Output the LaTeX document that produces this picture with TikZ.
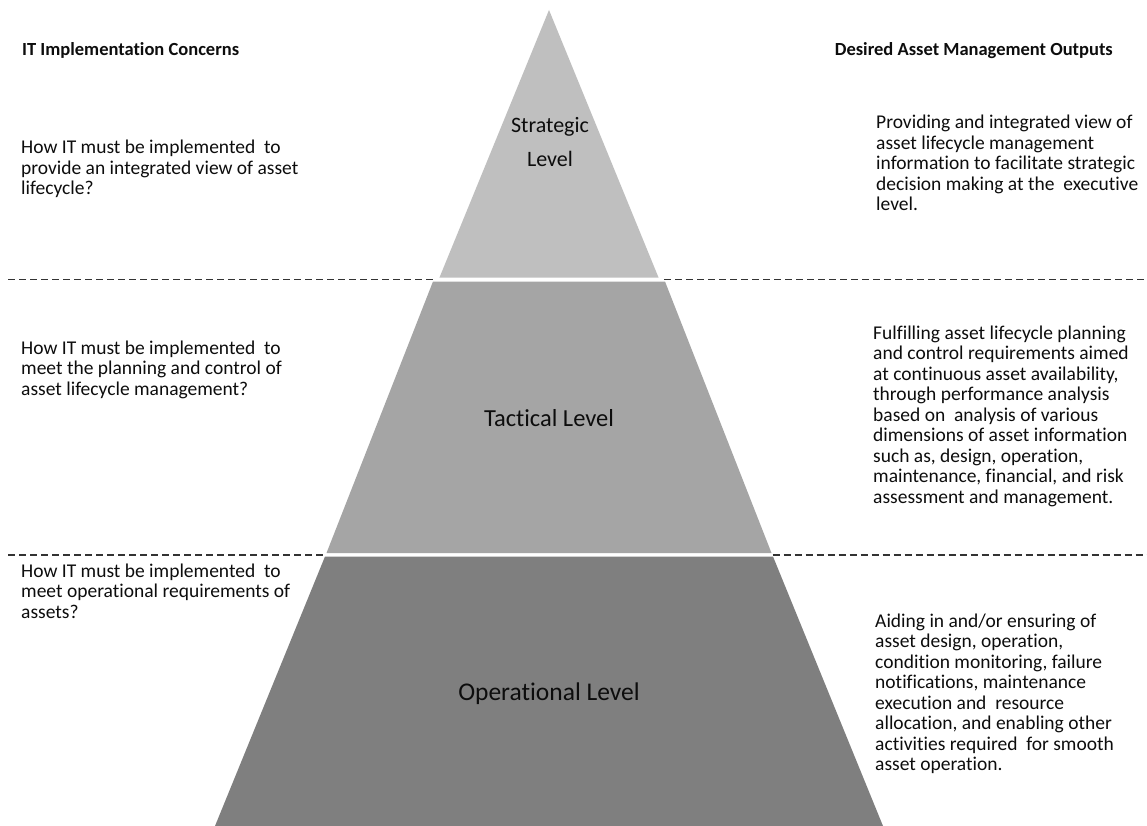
\documentclass[tikz,border=0pt]{standalone}
\usepackage{fontspec}
\setmainfont{Carlito}[Ligatures={NoCommon,NoContextual}]
\definecolor{stratgray}{HTML}{BFBFBF}
\definecolor{tactgray}{HTML}{A5A5A5}
\definecolor{opgray}{HTML}{7F7F7F}
\definecolor{inkgray}{HTML}{0D0D0D}
\begin{document}
\begin{tikzpicture}[x=1pt,y=-1pt,
  % multi-line nodes are placed by the baseline of their last line
  body/.style={anchor=base west, inner sep=0pt, align=left, text=inkgray,
    font=\fontsize{19.5}{20.5}\selectfont},
  head/.style={inner sep=0pt, text=inkgray, font=\fontsize{18.5}{20}\bfseries\selectfont},
  lvl/.style={inner sep=0pt, align=center, text=inkgray},
  levelsep/.style={draw=black!80, line width=1.3pt, dash pattern=on 7pt off 4pt},
]
\useasboundingbox (0,0) rectangle (1147,826);
\fill[white] (0,0) rectangle (1147,826);

% pyramid corners
\coordinate (apex) at (549,10);
\coordinate (sBL) at (439.4,277.7);
\coordinate (sBR) at (658.6,277.7);
\coordinate (tTL) at (433,281.5);
\coordinate (tTR) at (665,281.5);
\coordinate (tBL) at (326.5,553);
\coordinate (tBR) at (771.5,553);
\coordinate (oTL) at (325,556.5);
\coordinate (oTR) at (773,556.5);
\coordinate (oBL) at (215,826);
\coordinate (oBR) at (883,826);

% pyramid levels
\fill[stratgray] (apex) -- (sBL) -- (sBR) -- cycle;
\fill[tactgray] (tTL) -- (tTR) -- (tBR) -- (tBL) -- cycle;
\fill[opgray] (oTL) -- (oTR) -- (oBR) -- (oBL) -- cycle;

% dashed separators between levels
\coordinate (d1a) at (8,279.5);
\coordinate (d1b) at (434,279.5);
\coordinate (d1c) at (664,279.5);
\coordinate (d1d) at (1147,279.5);
\coordinate (d2a) at (8,555);
\coordinate (d2b) at (325.5,555);
\coordinate (d2c) at (772.5,555);
\coordinate (d2d) at (1147,555);
\draw[levelsep] (d1a) -- (d1b);
\draw[levelsep] (d1c) -- (d1d);
\draw[levelsep] (d2a) -- (d2b);
\draw[levelsep] (d2c) -- (d2d);

% level labels
\node[lvl, anchor=base, font=\fontsize{22}{34}\selectfont] (strat) at (550,166.7) {Strategic\\Level};
\node[lvl, anchor=base, font=\fontsize{24.5}{26}\selectfont] (tact) at (549,426) {Tactical Level};
\node[lvl, anchor=base, font=\fontsize{25.5}{30}\selectfont] (oper) at (549,700) {Operational Level};

% column headings
\node[head, anchor=base west] (lefthead) at (22,56) {IT Implementation Concerns};
\node[head, anchor=base east] (righthead) at (1113,56) {Desired Asset Management Outputs};

% implementation concerns
\node[body] (c1) at (21,195) {How IT must be implemented~ to\\provide an integrated view of asset\\lifecycle?};
\node[body] (c2) at (21,395) {How IT must be implemented~ to\\meet the planning and control of\\asset lifecycle management?};
\node[body] (c3) at (21,618) {How IT must be implemented~ to\\meet operational requirements of\\assets?};

% desired outputs
\node[body] (o1) at (876,211) {Providing and integrated view of\\asset lifecycle management\\information to facilitate strategic\\decision making at the~ executive\\level.};
\node[body] (o2) at (873,503.3) {Fulfilling asset lifecycle planning\\and control requirements aimed\\at continuous asset availability,\\through performance analysis\\based on~ analysis of various\\dimensions of asset information\\such as, design, operation,\\maintenance, financial, and risk\\assessment and management.};
\node[body] (o3) at (875,770.5) {Aiding in and/or ensuring of\\asset design, operation,\\condition monitoring, failure\\notifications, maintenance\\execution and~ resource\\allocation, and enabling other\\activities required~ for smooth\\asset operation.};
\end{tikzpicture}
\end{document}
